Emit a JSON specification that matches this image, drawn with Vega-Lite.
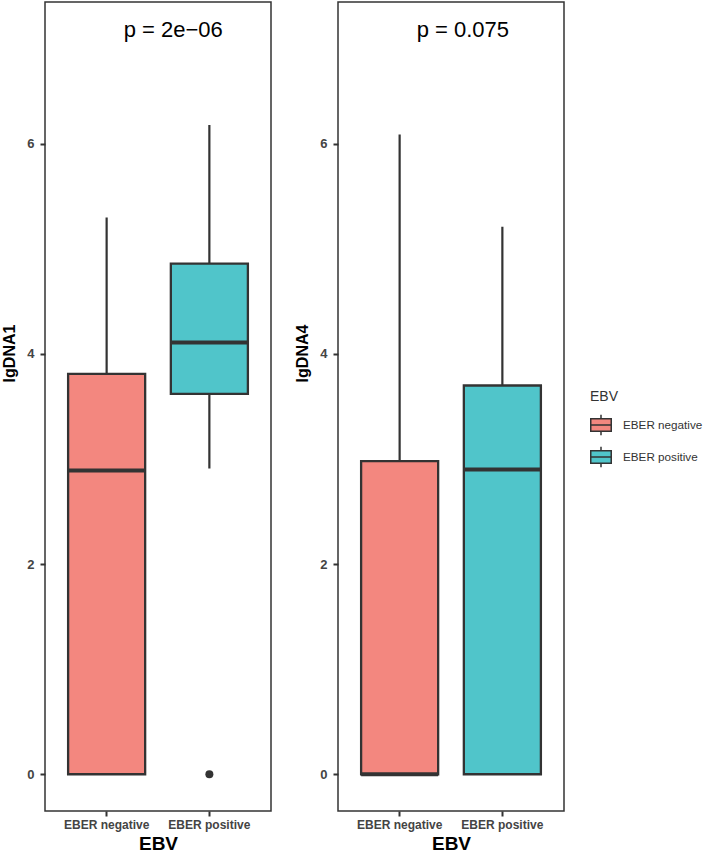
{
  "$schema": "https://vega.github.io/schema/vega-lite/v6.json",
  "padding": {"left": 1, "top": 1, "right": 0, "bottom": 0},
  "background": "white",
  "datasets": {
    "dna1": [
      {"group": "EBER negative", "lower": 0, "q1": 0, "median": 2.89, "q3": 3.81, "upper": 5.30},
      {"group": "EBER positive", "lower": 2.91, "q1": 3.62, "median": 4.11, "q3": 4.86, "upper": 6.18}
    ],
    "dna1_out": [
      {"group": "EBER positive", "value": 0}
    ],
    "dna4": [
      {"group": "EBER negative", "lower": 0, "q1": 0, "median": 0, "q3": 2.98, "upper": 6.09},
      {"group": "EBER positive", "lower": 0, "q1": 0, "median": 2.90, "q3": 3.70, "upper": 5.21}
    ]
  },
  "config": {
    "font": "Liberation Sans",
    "view": {"stroke": "#333333", "strokeWidth": 1.5},
    "axis": {
      "domain": false, "grid": false, "tickColor": "#333333", "tickWidth": 2, "tickSize": 5,
      "labelColor": "#444444", "labelFont": "Liberation Sans", "labelFontWeight": "bold",
      "titleColor": "#000000", "titleFontWeight": "bold", "titleFont": "Liberation Sans"
    },
    "concat": {"spacing": 22}
  },
  "hconcat": [
    {
      "width": 226, "height": 809,
      "data": {"name": "dna1"},
      "encoding": {
        "x": {"field": "group", "type": "nominal", "sort": ["EBER negative", "EBER positive"],
          "scale": {"paddingInner": 0.25, "paddingOuter": 0.225},
          "axis": {"title": "EBV", "labelAngle": 0, "labelFontSize": 12, "titleFontSize": 19, "labelPadding": 3, "titlePadding": 4}}
      },
      "layer": [
        {
          "mark": {"type": "rule", "stroke": "#333333", "strokeWidth": 2.2},
          "encoding": {
            "y": {"field": "lower", "type": "quantitative", "scale": {"domain": [-0.35, 7.35], "nice": false, "zero": false},
              "axis": {"title": "lgDNA1", "values": [0, 2, 4, 6], "format": "d", "titleFontSize": 16, "labelFontSize": 13, "labelPadding": 6, "titlePadding": 9, "titleY": 351}},
            "y2": {"field": "upper"}
          }
        },
        {
          "mark": {"type": "bar", "stroke": "#333333", "strokeWidth": 2.3, "opacity": 1},
          "encoding": {
            "y": {"field": "q1", "type": "quantitative"},
            "y2": {"field": "q3"},
            "color": {"field": "group", "type": "nominal",
              "scale": {"domain": ["EBER negative", "EBER positive"], "range": ["#F3877F", "#50C5CA"]},
              "legend": {"orient": "none", "legendX": 545, "legendY": 388, "title": "EBV",
                "titleFontSize": 14, "titleFontWeight": "normal", "titleColor": "#333333",
                "labelFontSize": 11.7, "labelColor": "#333333", "labelLimit": 300,
                "symbolType": "M-1,-0.6H1V0.6H-1Z M-1,0H1 M0,-0.6V-1 M0,0.6V1",
                "symbolSize": 420, "symbolStrokeColor": "#333333", "symbolStrokeWidth": 1.5,
                "rowPadding": 4, "labelOffset": 11, "titlePadding": 10}}
          }
        },
        {
          "mark": {"type": "tick", "color": "#333333", "thickness": 4, "size": 77, "orient": "horizontal", "opacity": 1},
          "encoding": {"y": {"field": "median", "type": "quantitative"}}
        },
        {
          "data": {"name": "dna1_out"},
          "mark": {"type": "point", "filled": true, "color": "#333333", "size": 64, "opacity": 1},
          "encoding": {"y": {"field": "value", "type": "quantitative"}}
        },
        {
          "data": {"values": [{"label": "p = 2e−06"}]},
          "mark": {"type": "text", "align": "left", "baseline": "middle", "dx": 17, "fontSize": 22, "color": "#000000"},
          "encoding": {"x": {"datum": "EBER negative"}, "y": {"datum": 7.08}, "text": {"field": "label"}}
        }
      ]
    },
    {
      "width": 226, "height": 809,
      "data": {"name": "dna4"},
      "encoding": {
        "x": {"field": "group", "type": "nominal", "sort": ["EBER negative", "EBER positive"],
          "scale": {"paddingInner": 0.25, "paddingOuter": 0.225},
          "axis": {"title": "EBV", "labelAngle": 0, "labelFontSize": 12, "titleFontSize": 19, "labelPadding": 3, "titlePadding": 4}}
      },
      "layer": [
        {
          "mark": {"type": "rule", "stroke": "#333333", "strokeWidth": 2.2},
          "encoding": {
            "y": {"field": "lower", "type": "quantitative", "scale": {"domain": [-0.35, 7.35], "nice": false, "zero": false},
              "axis": {"title": "lgDNA4", "values": [0, 2, 4, 6], "format": "d", "titleFontSize": 16, "labelFontSize": 13, "labelPadding": 6, "titlePadding": 9, "titleY": 351}},
            "y2": {"field": "upper"}
          }
        },
        {
          "mark": {"type": "bar", "stroke": "#333333", "strokeWidth": 2.3, "opacity": 1},
          "encoding": {
            "y": {"field": "q1", "type": "quantitative"},
            "y2": {"field": "q3"},
            "color": {"field": "group", "type": "nominal",
              "scale": {"domain": ["EBER negative", "EBER positive"], "range": ["#F3877F", "#50C5CA"]}}
          }
        },
        {
          "mark": {"type": "tick", "color": "#333333", "thickness": 4, "size": 77, "orient": "horizontal", "opacity": 1},
          "encoding": {"y": {"field": "median", "type": "quantitative"}}
        },
        {
          "data": {"values": [{"label": "p = 0.075"}]},
          "mark": {"type": "text", "align": "left", "baseline": "middle", "dx": 17, "fontSize": 22, "color": "#000000"},
          "encoding": {"x": {"datum": "EBER negative"}, "y": {"datum": 7.08}, "text": {"field": "label"}}
        }
      ]
    }
  ]
}
